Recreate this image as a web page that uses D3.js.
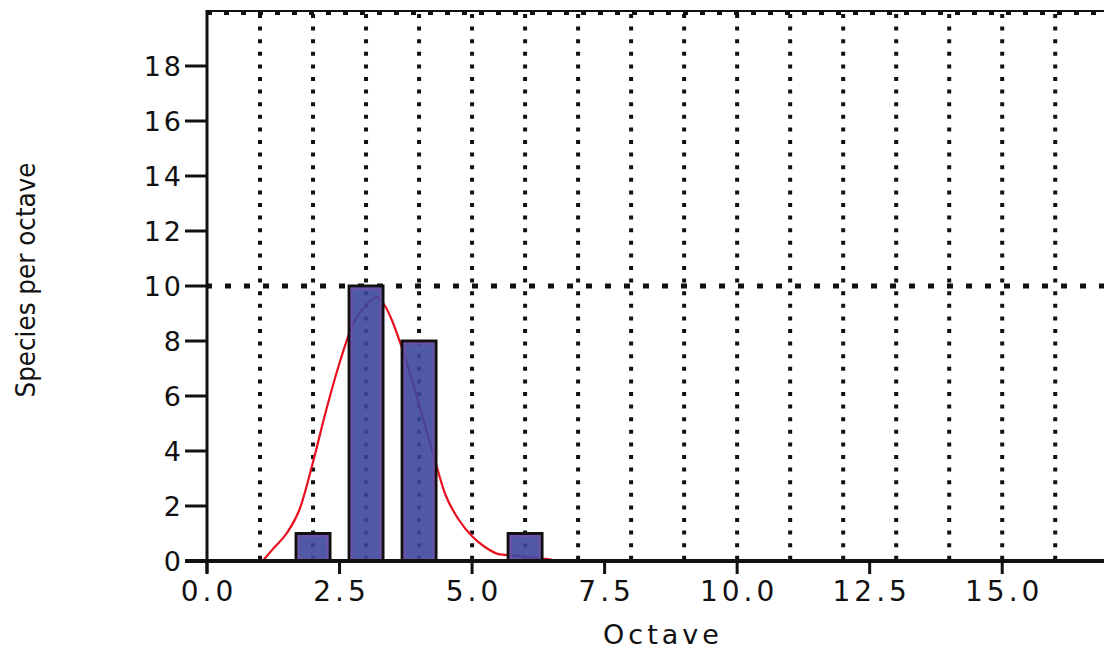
<!DOCTYPE html>
<html>
<head>
<meta charset="utf-8">
<script src="https://cdn.jsdelivr.net/npm/d3@7"></script>
<style>
  body { margin: 0; background: #fff; }
  svg { display: block; }
  text { font-family: "DejaVu Sans", sans-serif; fill: #111; }
</style>
</head>
<body>
<div id="chart"></div>
<script>
// histogram of species per octave
var octaves = [2, 3, 4, 6];
var counts = [1, 10, 8, 1];

// fitted curve
var curveX = [1.05, 1.25, 1.5, 1.75, 2.0, 2.25, 2.5, 2.75, 3.0, 3.2, 3.35, 3.5, 3.65, 3.8, 4.0, 4.25, 4.5, 4.75, 5.0, 5.25, 5.5, 5.75, 6.0, 6.25, 6.5];
var curveY = [0.0, 0.45, 1.0, 1.9, 3.6, 5.5, 7.2, 8.6, 9.3, 9.6, 9.3, 8.7, 7.9, 7.0, 5.7, 4.0, 2.4, 1.5, 0.9, 0.5, 0.25, 0.2, 0.15, 0.1, 0.05];

var xTicks = [0, 2.5, 5, 7.5, 10, 12.5, 15];
var yTicks = [0, 2, 4, 6, 8, 10, 12, 14, 16, 18];
var gridX = [1, 2, 3, 4, 5, 6, 7, 8, 9, 10, 11, 12, 13, 14, 15, 16];
var gridY = [10];

var W = 1104, H = 652;
var svg = d3.select("#chart").append("svg")
  .attr("width", W)
  .attr("height", H);

var x = d3.scaleLinear().domain([0, 16.92]).range([207, 1104]);
var y = d3.scaleLinear().domain([0, 20]).range([561, 11]);

// vertical dotted grid
svg.append("g").selectAll("line")
  .data(gridX)
  .enter().append("line")
  .attr("x1", d => x(d)).attr("x2", d => x(d))
  .attr("y1", y(20) + 3).attr("y2", y(0))
  .attr("stroke", "#111")
  .attr("stroke-width", 4)
  .attr("stroke-dasharray", "4 8.6");

// horizontal dotted grid
svg.append("g").selectAll("line")
  .data(gridY)
  .enter().append("line")
  .attr("x1", x(0)).attr("x2", W)
  .attr("y1", d => y(d)).attr("y2", d => y(d))
  .attr("stroke", "#111")
  .attr("stroke-width", 5)
  .attr("stroke-dasharray", "6 13")
  .attr("stroke-dashoffset", -18);

// top border
svg.append("line")
  .attr("x1", x(0)).attr("x2", W)
  .attr("y1", y(20)).attr("y2", y(20))
  .attr("stroke", "#111").attr("stroke-width", 2);
svg.append("line")
  .attr("x1", x(0)).attr("x2", W)
  .attr("y1", y(20) + 2.5).attr("y2", y(20) + 2.5)
  .attr("stroke", "#111").attr("stroke-width", 3)
  .attr("stroke-dasharray", "5 12");

// curve under the bars
var pts = curveX.map((d, i) => [d, curveY[i]]);
var line = d3.line()
  .x(d => x(d[0]))
  .y(d => y(d[1]))
  .curve(d3.curveMonotoneX);

svg.append("path")
  .datum(pts)
  .attr("d", line)
  .attr("fill", "none")
  .attr("stroke", "#e8101e")
  .attr("stroke-width", 2.2);

// bars
var bw = x(0.64) - x(0);
var bars = svg.append("g").selectAll("g")
  .data(octaves)
  .enter().append("g");

bars.append("rect")
  .attr("x", d => x(d) - bw / 2)
  .attr("y", (d, i) => y(counts[i]))
  .attr("width", bw)
  .attr("height", (d, i) => y(0) - y(counts[i]))
  .attr("fill", "#3d479c")
  .attr("fill-opacity", 0.9)
  .attr("stroke", "#111")
  .attr("stroke-width", 3);

bars.append("rect")
  .attr("x", d => x(d) - bw / 2 + 2.5)
  .attr("y", (d, i) => y(counts[i]) + 2.5)
  .attr("width", bw - 5)
  .attr("height", (d, i) => y(0) - y(counts[i]) - 4)
  .attr("fill", "none")
  .attr("stroke", "#7550a8")
  .attr("stroke-opacity", 0.85)
  .attr("stroke-width", 2);

// axes
svg.append("line")
  .attr("x1", x(0)).attr("x2", x(0))
  .attr("y1", y(20) - 1).attr("y2", y(0) + 12)
  .attr("stroke", "#111").attr("stroke-width", 3);
svg.append("line")
  .attr("x1", x(0) - 22).attr("x2", W)
  .attr("y1", y(0)).attr("y2", y(0))
  .attr("stroke", "#111").attr("stroke-width", 4);

// y ticks
var yt = svg.append("g").selectAll("g")
  .data(yTicks)
  .enter().append("g");
yt.append("line")
  .attr("x1", x(0) - 22).attr("x2", x(0))
  .attr("y1", d => y(d)).attr("y2", d => y(d))
  .attr("stroke", "#111").attr("stroke-width", 3);
yt.append("text")
  .attr("x", 184)
  .attr("y", d => y(d) + 10)
  .attr("text-anchor", "end")
  .style("font-size", "27px")
  .style("letter-spacing", "3px")
  .text(d => d);

// x ticks
var xt = svg.append("g").selectAll("g")
  .data(xTicks)
  .enter().append("g");
xt.append("line")
  .attr("x1", d => x(d)).attr("x2", d => x(d))
  .attr("y1", y(0)).attr("y2", y(0) + 13)
  .attr("stroke", "#111").attr("stroke-width", 3);
xt.append("text")
  .attr("x", d => x(d) + 2)
  .attr("y", 601)
  .attr("text-anchor", "middle")
  .style("font-size", "28px")
  .style("letter-spacing", "4px")
  .text(d => d.toFixed(1));

// axis titles
svg.append("text")
  .attr("x", 663)
  .attr("y", 644)
  .attr("text-anchor", "middle")
  .style("font-size", "27px")
  .style("letter-spacing", "4px")
  .text("Octave");

svg.append("text")
  .attr("transform", "translate(35,280) rotate(-90)")
  .attr("text-anchor", "middle")
  .attr("textLength", 235)
  .attr("lengthAdjust", "spacingAndGlyphs")
  .style("font-size", "26px")
  .text("Species per octave");
</script>
</body>
</html>
